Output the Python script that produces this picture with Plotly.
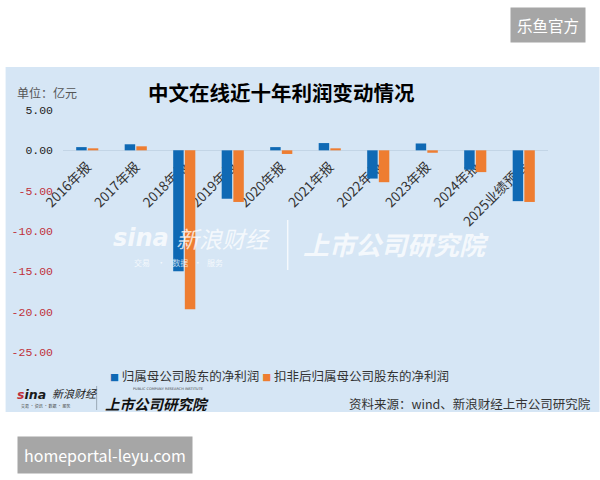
import plotly.graph_objects as go

# ---- data ----
categories = ["2016年报", "2017年报", "2018年报", "2019年报", "2020年报",
              "2021年报", "2022年报", "2023年报", "2024年报", "2025业绩预告"]
net_profit = [0.40, 0.75, -15.0, -6.0, 0.40, 0.90, -3.50, 0.85, -2.40, -6.30]
net_profit_deducted = [0.25, 0.50, -19.7, -6.40, -0.45, 0.25, -3.95, -0.30, -2.70, -6.40]
series_names = ["归属母公司股东的净利润", "扣非后归属母公司股东的净利润"]
y_ticks = [5, 0, -5, -10, -15, -20, -25]

BLUE = "#0f69b4"
ORANGE = "#ee7d31"
BG = "#d6e6f5"
CJK = "Noto Sans CJK SC"

# layout geometry (pixels)
W, H = 600, 480
L, R, T, B = 58, 52, 110, 128
PW, PH = W - L - R, H - T - B
YMIN, YMAX = -25, 5


def px(x):
    return (x - L) / PW


def py(y):
    return (T + PH - y) / PH


fig = go.Figure()
fig.add_trace(go.Bar(x=categories, y=net_profit, name=series_names[0],
                     marker=dict(color=BLUE, line=dict(width=0)), showlegend=False))
fig.add_trace(go.Bar(x=categories, y=net_profit_deducted, name=series_names[1],
                     marker=dict(color=ORANGE, line=dict(width=0)), showlegend=False))

tick_text = []
for v in y_ticks:
    s = f"{v:.2f}"
    if v < 0:
        s = f"<span style='color:#c0303a'>{s}</span>"
    tick_text.append(s)

annotations = []


def add_text(x, y, text, size, color="#222", family=CJK, xanchor="left", yanchor="middle", **kw):
    annotations.append(dict(x=px(x), y=py(y), xref="paper", yref="paper", text=text,
                            showarrow=False, xanchor=xanchor, yanchor=yanchor,
                            font=dict(size=size, color=color, family=family), **kw))


# title & unit
add_text(279, 92, "<b>中文在线近十年利润变动情况</b>", 20.5, color="#000", xanchor="center")
add_text(9, 92, "单位：亿元", 12, color="#555")

# central watermark
wm = "rgba(255,255,255,0.75)"
add_text(106, 238, "<b><i>sina</i></b>", 24, color=wm, family="DejaVu Sans")
add_text(170, 238, "<i>新浪财经</i>", 23, color=wm)
add_text(128, 262, "交易    ·    数据   ·   服务", 8, color=wm)
add_text(298, 243, "<b><i>上市公司研究院</i></b>", 26, color=wm)

# legend (custom, compact)
legend_txt = (f"<span style='color:{BLUE};font-size:9px'>■</span> {series_names[0]} "
              f"<span style='color:{ORANGE};font-size:9px'>■</span> {series_names[1]}")
add_text(104, 375, legend_txt, 12.5, color="#333", borderpad=0)

# bottom logos & source
add_text(10, 394, "<b><i><span style='color:#c0303a'>s</span>ina</i></b>", 12.5, color="#1a1a1a", family="DejaVu Sans")
add_text(45, 393, "<i>新浪财经</i>", 11, color="#222")
add_text(14, 406, "交易 · 资讯 · 数据 · 服务", 4, color="#444")
add_text(99, 403, "<b><i>上市公司研究院</i></b>", 14.5, color="#111", borderpad=0)
add_text(128, 389, "PUBLIC COMPANY RESEARCH INSTITUTE", 3.5, color="#444", family="DejaVu Sans",
         borderpad=0)
add_text(593, 403, "资料来源：wind、新浪财经上市公司研究院", 12.5, color="#333", xanchor="right")

# page watermarks
add_text(548.5, 25, "乐鱼官方", 15.5, color="#ffffff", xanchor="center",
         bgcolor="#a6a6a6", borderpad=6)
add_text(100, 455, "homeportal-leyu.com", 16, color="#ffffff", xanchor="center",
         bgcolor="#a6a6a6", borderpad=6)

shapes = [
    dict(type="rect", xref="paper", yref="paper", x0=px(0), x1=px(600), y0=py(412), y1=py(67),
         fillcolor=BG, line=dict(width=0), layer="below"),
    dict(type="line", xref="paper", yref="paper", x0=px(92), x1=px(92), y0=py(386), y1=py(410),
         line=dict(color="#9aa8b5", width=1)),
    dict(type="line", xref="paper", yref="paper", x0=px(285), x1=px(285), y0=py(220), y1=py(270),
         line=dict(color=wm, width=1.5)),
]

fig.update_layout(
    width=W, height=H, autosize=False,
    margin=dict(l=L, r=R, t=T, b=B, pad=0),
    paper_bgcolor="#ffffff", plot_bgcolor="rgba(0,0,0,0)",
    barmode="group", bargap=0.52, bargroupgap=0.1,
    showlegend=False,
    font=dict(family=CJK, size=12, color="#333"),
    xaxis=dict(type="category", range=[-0.5, 9.5], anchor="free",
               position=(0 - YMIN) / (YMAX - YMIN), tickangle=-45,
               showline=False, showgrid=False, ticks="", layer="below traces",
               ticklabelstandoff=5,
               tickfont=dict(family=CJK, size=13.5, color="#333")),
    yaxis=dict(range=[YMIN, YMAX], tickvals=y_ticks, ticktext=tick_text,
               showgrid=False, zeroline=True, zerolinecolor="#c3d5e6", zerolinewidth=1,
               showline=False, ticks="", ticklabelstandoff=9,
               tickfont=dict(family="Liberation Mono", size=11.5, color="#222")),
    annotations=annotations,
    shapes=shapes,
)

fig.write_html("out.html")
